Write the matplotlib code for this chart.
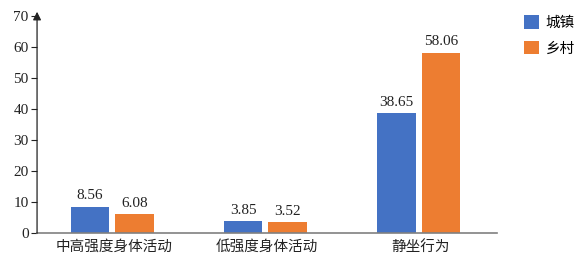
import matplotlib.pyplot as plt
import numpy as np

# data
categories = ["中高强度身体活动", "低强度身体活动", "静坐行为"]
urban = [8.56, 3.85, 38.65]
rural = [6.08, 3.52, 58.06]
series_names = ["城镇", "乡村"]
yticks = [0, 10, 20, 30, 40, 50, 60, 70]

# fonts
plt.rcParams['font.family'] = ['Liberation Serif', 'Noto Sans CJK SC']

fig = plt.figure(figsize=(5.79, 2.64), dpi=100)
ax = fig.add_axes([0.064, 0.117, 0.794, 0.822])

x = np.arange(len(categories))
w = 0.25
off = 0.145
b1 = ax.bar(x - 0.01 - off, urban, w, color="#4472C4", label=series_names[0])
b2 = ax.bar(x - 0.01 + off, rural, w, color="#ED7D31", label=series_names[1])

for rects, vals in [(b1, urban), (b2, rural)]:
    for r, v in zip(rects, vals):
        ax.text(r.get_x() + r.get_width() / 2, v + 1.5, f"{v:.2f}",
                ha="center", va="bottom", fontsize=11, color="#222222")

ax.set_xlim(-0.5, 2.5)
ax.set_ylim(0, 70)
ax.set_yticks(yticks)
ax.set_xticks(x)
ax.set_xticklabels(categories, family=['Noto Sans CJK SC'], fontsize=10.5)
ax.tick_params(axis="x", length=0, pad=5, colors="#222222")
ax.tick_params(axis="y", length=4, width=0.8, colors="#222222", labelsize=11, pad=2)

for s in ["top", "right", "left"]:
    ax.spines[s].set_visible(False)
ax.spines["bottom"].set_color("#808080")
ax.spines["bottom"].set_linewidth(1.2)

# y axis with arrow
ax.annotate("", xy=(0, 1.02), xytext=(0, 0), xycoords="axes fraction",
            arrowprops=dict(arrowstyle="-|>", color="#222222", lw=0.9,
                            mutation_scale=12, shrinkA=0, shrinkB=0),
            annotation_clip=False)

ax.legend(loc="upper left", bbox_to_anchor=(1.03, 1.065), frameon=False,
          prop={'family': 'Noto Sans CJK SC', 'size': 10.5},
          handlelength=1.05, handleheight=1.05, handletextpad=0.45, labelspacing=0.75)

plt.savefig("out.png", dpi=100)
